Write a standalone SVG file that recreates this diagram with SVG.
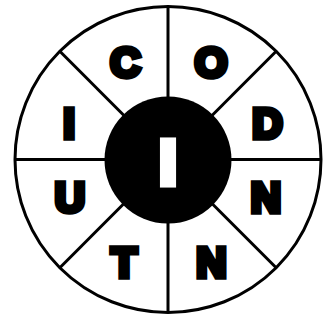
<svg xmlns="http://www.w3.org/2000/svg" width="324" height="327" viewBox="0 0 324 327">
<style>
.ring{fill:#fff;stroke:#000;stroke-width:3}
.spoke{stroke:#000;stroke-width:3;fill:none}
.lt{font-family:"Liberation Sans",Arial,sans-serif;font-weight:bold;font-size:42px;fill:#000;stroke:#000;stroke-width:5.5;stroke-linejoin:miter;text-anchor:middle}
.ctr{font-family:"Liberation Sans",Arial,sans-serif;font-weight:bold;font-size:63px;fill:#fff;stroke:#fff;stroke-width:7;stroke-linejoin:miter;text-anchor:middle}
</style>
<rect width="324" height="327" fill="#fff"/>
<g id="wheel">
<circle class="ring" cx="168" cy="159.5" r="153"/>
</g>
<g id="connectors">
<line class="spoke" x1="168" y1="6.5" x2="168" y2="312.5"/>
<line class="spoke" x1="15" y1="159.5" x2="321" y2="159.5"/>
<line class="spoke" x1="59.8" y1="51.3" x2="276.2" y2="267.7"/>
<line class="spoke" x1="276.2" y1="51.3" x2="59.8" y2="267.7"/>
</g>
<g id="hub">
<circle cx="168" cy="160" r="63.5" fill="#000"/>
<text class="ctr" x="168" y="184.3">I</text>
</g>
<g id="seg-c"><text class="lt" x="125.5" y="77">C</text></g>
<g id="seg-o"><text class="lt" x="211" y="77">O</text></g>
<g id="seg-d"><text class="lt" x="267.5" y="138">D</text></g>
<g id="seg-n1"><text class="lt" x="266" y="212">N</text></g>
<g id="seg-n2"><text class="lt" x="211.5" y="277">N</text></g>
<g id="seg-t"><text class="lt" x="124" y="277">T</text></g>
<g id="seg-u"><text class="lt" x="70" y="212">U</text></g>
<g id="seg-i"><text class="lt" x="69" y="138">I</text></g>
</svg>
